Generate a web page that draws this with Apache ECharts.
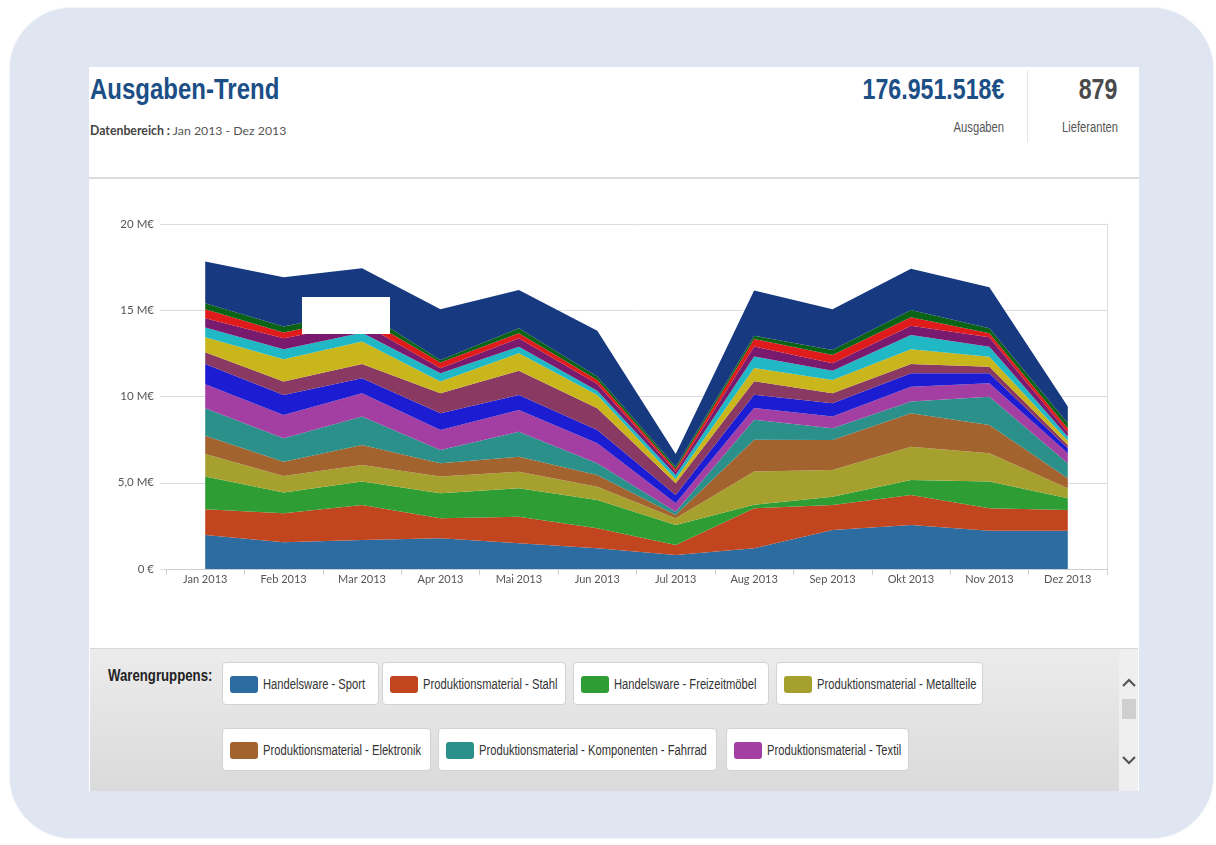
<!DOCTYPE html>
<html>
<head>
<meta charset="utf-8">
<script src="https://cdn.jsdelivr.net/npm/echarts@6/dist/echarts.min.js"></script>
<style>
  html, body { margin: 0; padding: 0; width: 1216px; height: 845px; background: #ffffff; overflow: hidden; }
  body { position: relative; font-family: "Liberation Sans", Arial, sans-serif; }
  #frame { position: absolute; left: 10px; top: 8px; width: 1203px; height: 830px; border-radius: 62px; background: #dfe6f2; box-shadow: 0 0 2px #c9d3e3; }
  #panel { position: absolute; left: 89px; top: 67px; width: 1050px; height: 724px; background: #ffffff; overflow: hidden; }
  #header { position: absolute; left: 0; top: 0; width: 1050px; height: 110px; border-bottom: 2px solid #dcdcdc; }
  .nl { position: absolute; white-space: nowrap; transform: scaleX(0.8); transform-origin: left top; }
  .nr { position: absolute; white-space: nowrap; transform: scaleX(0.8); transform-origin: right top; }
  #title { left: 1px; top: 5px; font-size: 30px; font-weight: bold; color: #1b4f86; }
  #range { position: absolute; left: 1px; top: 56px; font-family: Lato, "Open Sans", sans-serif; font-size: 12.3px; color: #555; white-space: nowrap; }
  #range b { color: #444; }
  #spend { right: 135px; top: 6px; font-size: 29px; font-weight: bold; color: #1b4f86; }
  #spendLbl { right: 135px; top: 52px; font-size: 14px; color: #555; }
  #sep { position: absolute; left: 938px; top: 3px; width: 1px; height: 72px; background: #e4e4e4; }
  #supp { right: 22px; top: 6px; font-size: 29px; font-weight: bold; color: #4a4a4a; }
  #suppLbl { right: 21px; top: 52px; font-size: 14px; color: #555; }
  #chart { position: absolute; left: 1px; top: 113px; width: 1048px; height: 468px; }
  #legend { position: absolute; left: 1px; top: 581px; width: 1048px; height: 143px; border-top: 1px solid #d8d8d8; background: linear-gradient(#ececec, #dadada); }
  #legLabel { left: 18px; top: 17px; font-size: 16.5px; font-weight: bold; color: #222; }
  .item { position: absolute; height: 43px; background: #fff; border: 1px solid #d2d2d2; border-radius: 4px; box-sizing: border-box; font-size: 14px; color: #333; white-space: nowrap; }
  .item .sw { position: absolute; left: 7px; top: 13px; width: 28px; height: 17px; border-radius: 3px; }
  .item .tx { left: 40px; top: 13px; }
  #scroll { position: absolute; left: 1029px; top: 0; width: 19px; height: 143px; background: #efefef; }
  #scroll svg { position: absolute; left: 2px; }
  #scroll .thumb { position: absolute; left: 3px; top: 50px; width: 14px; height: 20px; background: #cfcfcf; }
  #mask { position: absolute; left: 213px; top: 230px; width: 88px; height: 37px; background: #ffffff; }
</style>
</head>
<body>
<div id="frame"></div>
<div id="panel">
  <div id="header">
    <div id="title" class="nl">Ausgaben-Trend</div>
    <div id="range"><b>Datenbereich :</b> Jan 2013 - Dez 2013</div>
    <div id="spend" class="nr">176.951.518€</div>
    <div id="spendLbl" class="nr">Ausgaben</div>
    <div id="sep"></div>
    <div id="supp" class="nr">879</div>
    <div id="suppLbl" class="nr">Lieferanten</div>
  </div>
  <div id="chart"></div>
  <div id="mask"></div>
  <div id="legend">
    <div id="legLabel" class="nl">Warengruppens:</div>
    <div id="legItems"></div>
    <div id="scroll">
      <svg width="16" height="10" style="top:29px"><polyline points="2,8 8,2 14,8" fill="none" stroke="#555" stroke-width="2.2"/></svg>
      <div class="thumb"></div>
      <svg width="16" height="10" style="top:106px"><polyline points="2,2 8,8 14,2" fill="none" stroke="#555" stroke-width="2.2"/></svg>
    </div>
  </div>
</div>
<script>
// ---- Data (values in million €) ----
const months = ['Jan 2013','Feb 2013','Mar 2013','Apr 2013','Mai 2013','Jun 2013','Jul 2013','Aug 2013','Sep 2013','Okt 2013','Nov 2013','Dez 2013'];
const yTickLabels = ['0 €','5,0 M€','10 M€','15 M€','20 M€'];

const sport       = [1.97,1.55,1.68,1.78,1.49,1.20,0.81,1.20,2.26,2.55,2.22,2.22];
const stahl       = [1.49,1.68,2.03,1.16,1.54,1.16,0.58,2.32,1.45,1.74,1.30,1.20];
const freizeit    = [1.90,1.20,1.36,1.45,1.65,1.64,1.16,0.20,0.48,0.87,1.55,0.68];
const metallteile = [1.31,0.96,0.96,0.97,0.96,0.77,0.39,1.93,1.55,1.93,1.64,0.58];
const elektronik  = [1.06,0.83,1.16,0.77,0.87,0.68,0.19,1.84,1.74,1.94,1.64,0.58];
const fahrrad     = [1.59,1.36,1.65,0.77,1.45,0.68,0.19,1.16,0.68,0.68,1.64,0.87];
const textil      = [1.39,1.35,1.35,1.16,1.26,1.16,0.49,0.68,0.68,0.86,0.78,0.58];
const gruppe8     = [1.18,1.16,0.87,0.97,0.87,0.77,0.48,0.77,0.77,0.78,0.58,0.29];
const gruppe9     = [0.68,0.78,0.83,1.16,1.41,1.26,0.68,0.78,0.58,0.54,0.38,0.19];
const gruppe10    = [0.87,1.29,1.30,0.68,1.01,0.77,0.23,0.77,0.77,0.85,0.58,0.25];
const gruppe11    = [0.56,0.58,0.50,0.48,0.38,0.25,0.25,0.67,0.54,0.83,0.58,0.23];
const gruppe12    = [0.54,0.64,0.55,0.29,0.49,0.39,0.19,0.58,0.43,0.53,0.55,0.24];
const gruppe13    = [0.52,0.33,0.40,0.33,0.29,0.23,0.14,0.43,0.48,0.50,0.23,0.25];
const gruppe14    = [0.35,0.35,0.35,0.15,0.29,0.20,0.15,0.19,0.29,0.42,0.29,0.29];
const gruppe15    = [2.42,2.86,2.45,2.94,2.22,2.65,0.74,2.63,2.36,2.38,2.38,0.97];

const seriesNames = ['Handelsware - Sport','Produktionsmaterial - Stahl','Handelsware - Freizeitmöbel','Produktionsmaterial - Metallteile','Produktionsmaterial - Elektronik','Produktionsmaterial - Komponenten - Fahrrad','Produktionsmaterial - Textil','Gruppe 8','Gruppe 9','Gruppe 10','Gruppe 11','Gruppe 12','Gruppe 13','Gruppe 14','Gruppe 15'];
const seriesData = [sport,stahl,freizeit,metallteile,elektronik,fahrrad,textil,gruppe8,gruppe9,gruppe10,gruppe11,gruppe12,gruppe13,gruppe14,gruppe15];
const colors = ['#2c6ca1','#c1461f','#2e9e34','#a6a12f','#a3632f','#2b8f8a','#a33fa3','#1c1cd2','#8a3a62','#c9b51c','#1fb8c4','#7a1a6e','#e01b1b','#0b6416','#17397f'];
const legendRows = [[0,1,2,3],[4,5,6]];

// ---- Legend (HTML) ----
const legItems = document.getElementById('legItems');
const legX = [[132,292,483,686],[132,348,636]];
const legW = [[157,184,196,207],[209,279,183]];
const legY = [13,79];
legendRows.forEach((row, r) => {
  row.forEach((idx, c) => {
    const d = document.createElement('div');
    d.className = 'item';
    d.style.left = legX[r][c] + 'px';
    d.style.top = legY[r] + 'px';
    d.style.width = legW[r][c] + 'px';
    d.innerHTML = '<div class="sw" style="background:' + colors[idx] + '"></div><div class="tx nl">' + seriesNames[idx] + '</div>';
    legItems.appendChild(d);
  });
});

// ---- Chart ----
const chart = echarts.init(document.getElementById('chart'), null, { renderer: 'canvas' });
const axisFont = 'Lato, "Open Sans", sans-serif';
chart.setOption({
  animation: false,
  color: colors,
  grid: { left: 76, right: 31, top: 44, bottom: 79 },
  xAxis: {
    type: 'category',
    data: months,
    boundaryGap: true,
    axisLine: { show: true, lineStyle: { color: '#cfcfcf', width: 1 } },
    axisTick: { show: true, alignWithLabel: false, length: 6, lineStyle: { color: '#cfcfcf' } },
    axisLabel: { color: '#555', fontSize: 11, fontFamily: axisFont, margin: 5 },
    splitLine: { show: false }
  },
  yAxis: [{
    type: 'value',
    min: 0, max: 20, interval: 5,
    axisLine: { show: false },
    axisTick: { show: true, length: 6, lineStyle: { color: '#dcdcdc' } },
    axisLabel: { color: '#555', fontSize: 11.5, fontFamily: axisFont, margin: 12,
      formatter: v => yTickLabels[Math.round(v / 5)] },
    splitLine: { show: true, lineStyle: { color: '#dcdcdc', width: 1 } }
  }, {
    type: 'value', position: 'right',
    min: 0, max: 20, interval: 5,
    axisLine: { show: true, lineStyle: { color: '#dcdcdc' } },
    axisTick: { show: false }, axisLabel: { show: false }, splitLine: { show: false }
  }],
  series: seriesData.map((d, i) => ({
    name: seriesNames[i],
    type: 'line',
    stack: 'total',
    data: d,
    symbol: 'none',
    lineStyle: { width: 0 },
    areaStyle: { color: colors[i], opacity: 1 },
    itemStyle: { color: colors[i] }
  }))
});
</script>
</body>
</html>
